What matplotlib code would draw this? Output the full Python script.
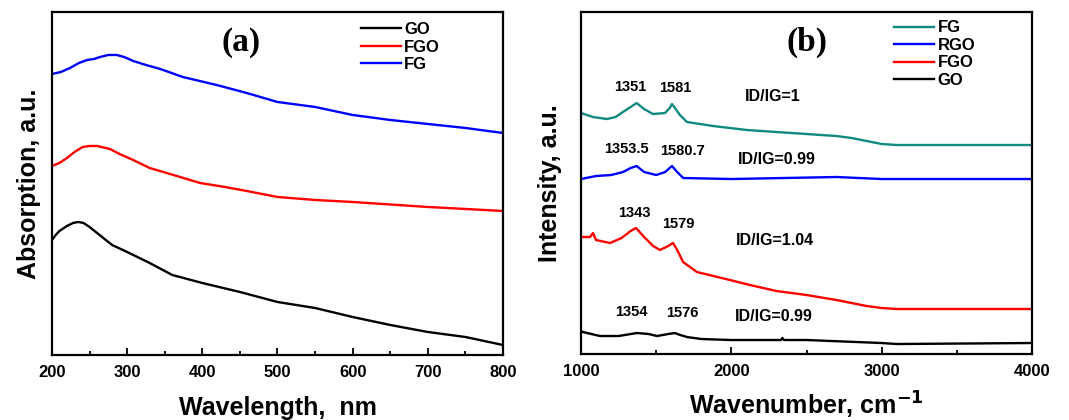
import matplotlib.pyplot as plt
from matplotlib.ticker import MultipleLocator

plt.rcParams['font.family'] = ['Liberation Sans', 'DejaVu Sans']
plt.rcParams['font.weight'] = 'bold'
plt.rcParams['mathtext.default'] = 'bf'

# (a) UV-vis absorption, arbitrary units
wl_go = [200, 205, 210, 220, 228, 235, 242, 250, 265, 280, 300, 330, 360, 400, 450, 500, 550, 600, 650, 700, 750, 800]
abs_go = [115, 120, 124, 129, 132, 133, 132, 128, 119, 110, 103, 92, 80, 72, 63, 53, 47, 38, 30, 23, 18, 10]
wl_fgo = [200, 210, 220, 230, 241, 250, 260, 277, 290, 308, 330, 366, 397, 430, 459, 500, 550, 600, 700, 800]
abs_fgo = [189, 192, 197, 203, 208, 209, 209, 206, 201, 195, 187, 179, 172, 168, 164, 158, 155, 153, 148, 144]
wl_fg = [200, 212, 224, 236, 247, 256, 264, 275, 286, 296, 308, 325, 344, 374, 419, 459, 500, 550, 600, 650, 700, 750, 800]
abs_fg = [281, 283, 287, 292, 295, 296, 298, 300, 300, 298, 294, 290, 286, 278, 270, 262, 253, 248, 240, 235, 231, 227, 222]

# (b) Raman spectra, arbitrary units
wn_fg = [1000, 1080, 1173, 1230, 1279, 1330, 1370, 1420, 1479, 1559, 1590, 1605, 1630, 1658, 1705, 1878, 2104, 2300, 2500, 2700, 2800, 2900, 3000, 3100, 4000]
int_fg = [241, 237, 235, 237, 242, 247, 251, 245, 240, 241, 246, 250, 245, 239, 232, 228, 224, 222, 220, 218, 216, 213, 210, 209, 209]
wn_rgo = [1000, 1100, 1200, 1280, 1330, 1370, 1420, 1500, 1560, 1605, 1640, 1680, 2000, 2700, 3000, 4000]
int_rgo = [175, 178, 179, 182, 186, 188, 182, 179, 182, 188, 182, 176, 175, 177, 175, 175]
wn_fgo = [1000, 1060, 1080, 1100, 1193, 1270, 1330, 1366, 1420, 1480, 1525, 1580, 1612, 1640, 1679, 1771, 1991, 2124, 2300, 2500, 2700, 2900, 3000, 3100, 4000]
int_fgo = [117, 117, 121, 114, 111, 116, 123, 126, 117, 108, 104, 108, 111, 104, 92, 82, 74, 69, 63, 59, 54, 48, 46, 45, 45]
wn_go = [1000, 1013, 1126, 1250, 1372, 1450, 1505, 1580, 1625, 1660, 1705, 1800, 2000, 2330, 2340, 2350, 2500, 3000, 3100, 4000]
int_go = [23, 22, 18, 18, 21, 20, 18, 20, 21, 19, 17, 15, 14, 14, 16, 14, 14, 11, 10, 11]

peak_labels = ['1351', '1581', '1353.5', '1580.7', '1343', '1579', '1354', '1576']
peak_x = [1326, 1625, 1305, 1675, 1352, 1650, 1332, 1672]
peak_y = [267, 266, 205, 203, 141, 130, 42, 41]
ratio_labels = ['ID/IG=1', 'ID/IG=0.99', 'ID/IG=1.04', 'ID/IG=0.99']
ratio_x = [2277, 2304, 2290, 2284]
ratio_y = [258, 195, 114, 38]

fig = plt.figure(figsize=(10.69, 4.2), dpi=100)
ax1 = fig.add_axes([0.0486, 0.1548, 0.4219, 0.8167])
ax2 = fig.add_axes([0.5435, 0.1571, 0.4219, 0.8143])

lw = 1.7
ax1.plot(wl_go, abs_go, color='black', lw=lw, label='GO')
ax1.plot(wl_fgo, abs_fgo, color='red', lw=lw, label='FGO')
ax1.plot(wl_fg, abs_fg, color='blue', lw=lw, label='FG')
ax1.set_xlim(200, 800)
ax1.set_ylim(0, 343)
ax1.xaxis.set_major_locator(MultipleLocator(100))
ax1.xaxis.set_minor_locator(MultipleLocator(50))
ax1.set_xlabel('Wavelength,  nm', fontsize=18, fontweight='bold', labelpad=12)
ax1.set_ylabel('Absorption, a.u.', fontsize=18, fontweight='bold', labelpad=8)
ax1.text(0.42, 0.91, '(a)', transform=ax1.transAxes, ha='center', va='center',
         fontsize=24, fontweight='bold', family='Liberation Serif')
ax1.legend(loc='upper left', bbox_to_anchor=(0.67, 0.99), frameon=False, fontsize=12,
           handlelength=2.4, handletextpad=0.2, labelspacing=0.15, borderaxespad=0)

ax2.plot(wn_fg, int_fg, color='#0f8a80', lw=lw, label='FG')
ax2.plot(wn_rgo, int_rgo, color='blue', lw=lw, label='RGO')
ax2.plot(wn_fgo, int_fgo, color='red', lw=lw, label='FGO')
ax2.plot(wn_go, int_go, color='black', lw=lw, label='GO')
ax2.set_xlim(1000, 4000)
ax2.set_ylim(0, 342)
ax2.xaxis.set_major_locator(MultipleLocator(1000))
ax2.xaxis.set_minor_locator(MultipleLocator(500))
ax2.set_xlabel(r'Wavenumber, cm$^{\mathbf{-1}}$', fontsize=18, fontweight='bold', labelpad=8)
ax2.set_ylabel('Intensity, a.u.', fontsize=18, fontweight='bold', labelpad=14)
ax2.text(0.5, 0.91, '(b)', transform=ax2.transAxes, ha='center', va='center',
         fontsize=24, fontweight='bold', family='Liberation Serif')
ax2.legend(loc='upper left', bbox_to_anchor=(0.68, 0.995), frameon=False, fontsize=12,
           handlelength=2.4, handletextpad=0.2, labelspacing=0.15, borderaxespad=0)

for lab, x, y in zip(peak_labels, peak_x, peak_y):
    ax2.text(x, y, lab, ha='center', va='center', fontsize=10.5, fontweight='bold')
for lab, x, y in zip(ratio_labels, ratio_x, ratio_y):
    ax2.text(x, y, lab, ha='center', va='center', fontsize=11.5, fontweight='bold')

for ax in (ax1, ax2):
    for s in ax.spines.values():
        s.set_linewidth(1.6)
    ax.set_yticks([])
    ax.tick_params(axis='x', which='both', direction='in', labelsize=12, width=1.3)
    ax.tick_params(axis='x', which='major', length=5, pad=7)
    ax.tick_params(axis='x', which='minor', length=3)

fig.savefig('out.png', dpi=100)
